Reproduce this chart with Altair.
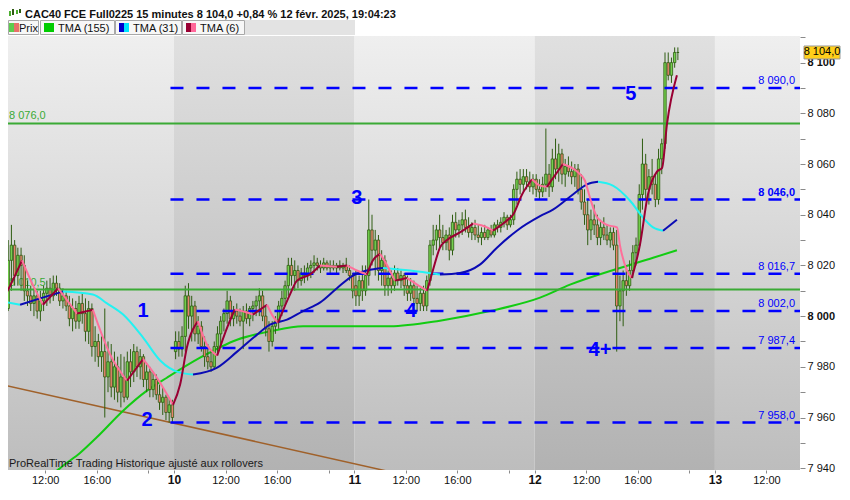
import altair as alt
import pandas as pd

# ---------------- values ----------------
# 15-minute bars, session 08:00-22:00 (56 bars per day).
# Bar index counted from Fri 7 Feb 08:00 ; (open, high, low, close)
feb07_first_bar = 2   # 08:30
feb07 = [
    (8004, 8010, 8001, 8006), (8006, 8011, 8000, 8002), (8003, 8030, 8002, 8022), (8022, 8036, 8010, 8028),
    (8028, 8030, 8012, 8016), (8016, 8027, 8012, 8024), (8024, 8027, 8010, 8020), (8020, 8024, 8006, 8010),
    (8010, 8014, 8004, 8008), (8008, 8012, 8002, 8005), (8005, 8011, 8000, 8008), (8008, 8010, 7999, 8002),
    (8002, 8010, 7998, 8006), (8006, 8012, 8002, 8009), (8009, 8014, 8004, 8011), (8011, 8015, 8005, 8008),
    (8008, 8016, 8006, 8013), (8013, 8016, 8008, 8011), (8011, 8013, 8004, 8006), (8006, 8011, 8003, 8008),
    (8008, 8010, 8002, 8004), (8004, 8008, 7996, 7999), (7999, 8007, 7994, 8003), (8003, 8006, 7995, 7998),
    (7998, 8008, 7995, 8005), (8005, 8009, 7997, 8001), (8001, 8007, 7990, 7994), (7994, 8006, 7989, 8003),
    (8003, 8005, 7984, 7988), (7988, 7996, 7982, 7990), (7990, 7993, 7980, 7984), (7984, 7992, 7978, 7986),
    (7986, 8003, 7960, 7976), (7976, 7990, 7970, 7982), (7982, 7989, 7968, 7972), (7972, 7986, 7967, 7980),
    (7980, 7984, 7966, 7970), (7970, 7985, 7964, 7976), (7976, 7984, 7966, 7968), (7968, 7986, 7967, 7982),
    (7982, 7987, 7972, 7978), (7978, 7989, 7974, 7986), (7986, 7988, 7976, 7980), (7980, 7987, 7975, 7984),
    (7984, 7985, 7972, 7975), (7975, 7981, 7970, 7978), (7978, 7980, 7968, 7971), (7971, 7978, 7968, 7975),
    (7975, 7977, 7967, 7969), (7969, 7973, 7963, 7966), (7966, 7972, 7961, 7968), (7968, 7969, 7959, 7962),
    (7962, 7968, 7958, 7965), (7965, 7967, 7958, 7960),
]
feb10_first_bar = 56
feb10 = [
    (7986, 7994, 7983, 7990), (7990, 7994, 7984, 7987), (7987, 7996, 7984, 7992), (7992, 8012, 7986, 8008),
    (8008, 8013, 7995, 8000), (8000, 8008, 7990, 8004), (8004, 8006, 7990, 7993), (7993, 8000, 7989, 7996),
    (7996, 7998, 7986, 7988), (7988, 7992, 7980, 7984), (7984, 7989, 7979, 7982), (7982, 7986, 7978, 7980),
    (7980, 7990, 7979, 7988), (7988, 7996, 7985, 7993), (7993, 8000, 7988, 7998), (7998, 8003, 7994, 8001),
    (8001, 8010, 7997, 8006), (8006, 8008, 7996, 7999), (7999, 8004, 7996, 8002), (8002, 8005, 7997, 8000),
    (8000, 8003, 7996, 7998), (7998, 8004, 7987, 8002), (8002, 8005, 7997, 7999), (7999, 8004, 7996, 8003),
    (8003, 8006, 7998, 8004), (8004, 8008, 8000, 8006), (8006, 8011, 8000, 8008), (8008, 8010, 7998, 8000),
    (8000, 8004, 7992, 7995), (7995, 7998, 7986, 7990), (7990, 7998, 7988, 7996), (7996, 8000, 7993, 7998),
    (7998, 8006, 7995, 8004), (8004, 8010, 8000, 8007), (8007, 8014, 8004, 8012), (8012, 8023, 8008, 8020),
    (8020, 8023, 8012, 8016), (8016, 8022, 8010, 8018), (8018, 8020, 8011, 8014), (8014, 8019, 8012, 8017),
    (8017, 8020, 8013, 8016), (8016, 8021, 8014, 8019), (8019, 8022, 8015, 8020), (8020, 8024, 8017, 8021),
    (8021, 8023, 8018, 8020), (8020, 8022, 8017, 8019), (8019, 8023, 8018, 8021), (8021, 8022, 8018, 8019),
    (8019, 8022, 8017, 8020), (8020, 8022, 8018, 8019), (8019, 8021, 8017, 8020), (8020, 8022, 8018, 8019),
    (8019, 8021, 8017, 8020), (8020, 8023, 8017, 8018), (8018, 8020, 8014, 8016), (8016, 8017, 8007, 8010),
]
feb11_first_bar = 112
feb11 = [
    (8012, 8018, 8004, 8008), (8008, 8016, 8004, 8014), (8014, 8020, 8006, 8010), (8010, 8020, 8008, 8016),
    (8016, 8046, 8012, 8034), (8034, 8040, 8020, 8026), (8026, 8034, 8016, 8030), (8030, 8032, 8014, 8018),
    (8018, 8026, 8012, 8022), (8022, 8024, 8008, 8012), (8012, 8018, 8008, 8015), (8015, 8018, 8009, 8012),
    (8012, 8020, 8010, 8017), (8017, 8019, 8012, 8014), (8014, 8018, 8011, 8016), (8016, 8017, 8008, 8012),
    (8012, 8016, 8006, 8009), (8009, 8015, 8006, 8012), (8012, 8014, 8004, 8007), (8007, 8012, 8002, 8005),
    (8005, 8011, 8002, 8009), (8009, 8012, 8002, 8004), (8004, 8016, 8002, 8014), (8014, 8030, 8012, 8028),
    (8028, 8036, 8024, 8030), (8030, 8036, 8026, 8034), (8034, 8040, 8027, 8031), (8031, 8036, 8026, 8029),
    (8029, 8034, 8026, 8032), (8032, 8035, 8022, 8026), (8026, 8040, 8024, 8037), (8037, 8041, 8031, 8034),
    (8034, 8038, 8031, 8036), (8036, 8041, 8032, 8038), (8038, 8042, 8033, 8035), (8035, 8039, 8031, 8033),
    (8033, 8037, 8030, 8035), (8035, 8038, 8030, 8032), (8032, 8036, 8029, 8031), (8031, 8035, 8028, 8033),
    (8033, 8036, 8030, 8031), (8031, 8035, 8030, 8034), (8034, 8036, 8031, 8032), (8032, 8037, 8031, 8036),
    (8036, 8038, 8033, 8035), (8035, 8039, 8033, 8037), (8037, 8041, 8035, 8039), (8039, 8040, 8034, 8036),
    (8036, 8040, 8035, 8038), (8038, 8052, 8036, 8050), (8050, 8057, 8044, 8054), (8054, 8058, 8048, 8052),
    (8052, 8058, 8049, 8055), (8055, 8058, 8050, 8053), (8053, 8057, 8049, 8051), (8051, 8056, 8048, 8054),
]
feb12_first_bar = 168
feb12 = [
    (8054, 8056, 8047, 8050), (8050, 8054, 8046, 8049), (8049, 8055, 8047, 8052), (8052, 8074, 8049, 8056),
    (8056, 8060, 8047, 8051), (8051, 8066, 8049, 8062), (8062, 8070, 8054, 8058), (8058, 8068, 8053, 8064),
    (8064, 8066, 8052, 8056), (8056, 8062, 8051, 8059), (8059, 8063, 8055, 8057), (8057, 8061, 8052, 8055),
    (8055, 8060, 8051, 8058), (8058, 8060, 8048, 8050), (8050, 8056, 8042, 8045), (8045, 8050, 8036, 8040),
    (8040, 8046, 8028, 8034), (8034, 8042, 8030, 8038), (8038, 8044, 8032, 8036), (8036, 8040, 8028, 8031),
    (8031, 8038, 8028, 8035), (8035, 8039, 8030, 8032), (8032, 8036, 8028, 8030), (8030, 8035, 8027, 8033),
    (8033, 8035, 8026, 8028), (8028, 8034, 7986, 8004), (8004, 8016, 7998, 8010), (8010, 8018, 7996, 8014),
    (8014, 8020, 8008, 8012), (8012, 8022, 8010, 8018), (8018, 8028, 8015, 8025), (8025, 8031, 8020, 8028),
    (8028, 8052, 8026, 8048), (8048, 8070, 8042, 8060), (8060, 8064, 8046, 8050), (8050, 8058, 8044, 8055),
    (8055, 8062, 8048, 8052), (8052, 8056, 8043, 8046), (8046, 8066, 8044, 8062), (8062, 8070, 8056, 8068),
    (8068, 8104, 8066, 8100), (8100, 8104, 8093, 8095), (8095, 8102, 8092, 8100), (8100, 8106, 8098, 8104),
    (8104, 8106, 8101, 8104),
]

# Moving averages: (bar index, value)
tma6 = [
    (1.5, 8004.5), (4.6, 8012), (8.3, 8022), (11.4, 8013), (14.8, 8004.5), (19.5, 8011), (25.4, 8001),
    (30.3, 8002.5), (35.6, 7985), (40.9, 7974.5), (45.9, 7983), (50.2, 7975.7), (55.2, 7965),
    (57.4, 7973), (59.5, 7987.6), (62.9, 7998), (65.7, 7988.8), (68.9, 7984.4), (72.0, 7995.5),
    (74.4, 8002.6), (78.2, 8001.4), (80.0, 8000.6), (84.4, 8004.5), (86.2, 8000), (87.8, 7997.4),
    (91.5, 8008.5), (93.7, 8014), (97.7, 8016.4), (100.8, 8020), (106.1, 8019.5), (109.2, 8020),
    (112.3, 8018), (115.4, 8016.4), (117.3, 8022), (119.5, 8024.6), (121.6, 8020.3), (124.1, 8014),
    (127.9, 8015), (131.0, 8012.4), (134.1, 8010), (135.9, 8018), (138.1, 8027), (140.3, 8030),
    (144.3, 8033), (148.4, 8036.5), (152.7, 8035), (154.6, 8033.7), (158.9, 8037.7), (160.8, 8040),
    (163.6, 8048), (166.7, 8054), (169.2, 8051.5), (171.3, 8051), (176.3, 8060), (180.7, 8057),
    (183.1, 8053.5), (184.7, 8046.7), (186.9, 8039), (190.0, 8036), (193.1, 8035), (194.0, 8028),
    (196.2, 8018), (197.7, 8015), (200.2, 8028), (202.7, 8048), (205.5, 8057), (207.1, 8058.5),
    (208.6, 8075.6), (211.7, 8095),
]
tma31 = [
    (1.5, 8006), (7.7, 8004.5), (13.9, 8007), (21.0, 8009.7), (30.3, 8008.5), (34.7, 8005),
    (39.7, 8000.6), (45.9, 7991.5), (51.2, 7982.5), (57.4, 7977.7), (61.4, 7977), (68.9, 7979.7),
    (75.1, 7986), (81.3, 7992.7), (85.3, 7996.6), (90.6, 7998.6), (95.6, 8002), (100.8, 8005.3),
    (106.1, 8011), (111.1, 8016), (115.4, 8018), (120.4, 8019), (128.8, 8018), (138.1, 8016.4),
    (144.3, 8017), (150.5, 8020.3), (155.8, 8027), (162.0, 8033.7), (169.2, 8039.4), (173.2, 8042),
    (179.4, 8048), (183.8, 8052), (187.2, 8053), (191.8, 8051.5), (197.1, 8045.6), (201.1, 8039),
    (204.3, 8035), (207.4, 8033.7), (211.7, 8038),
]
tma155 = [
    (15.4, 7933), (16.4, 7935.5), (20.1, 7940), (26.3, 7946), (31.6, 7952.3), (39.7, 7962.7),
    (47.1, 7970.6), (53.3, 7975.7), (63.6, 7983.6), (75.1, 7990.7), (85.3, 7994), (95.6, 7996),
    (107.0, 7996), (122.6, 7996), (138.1, 7998.2), (153.6, 8002), (169.2, 8007.3), (178.5, 8012.4),
    (194.0, 8019), (204.3, 8023), (211.7, 8026),
]

blue_levels = [8090.0, 8046.0, 8016.7, 8002.0, 7987.4, 7958.0]
blue_bold = [8046.0]
blue_start_bar = 54.9
green_levels = [8076.0, 8010.5]
trend_bar = [1.5, 134.0]
trend_val = [7973.3, 7935.5]
wave_labels = ["1", "2", "3", "4", "4+", "5"]
wave_bar = [45.9, 47.1, 112.3, 129.1, 187.8, 197.4]
wave_val = [8002.2, 7959.2, 8046.7, 8002.2, 7986.8, 8087.8]
tick_bars = [16, 32, 48, 56, 72, 88, 104, 112, 128, 144, 160, 168, 184, 200, 216, 224, 240]
day_bands = [(0, 56, "light"), (56, 112, "dark"), (112, 168, "light"), (168, 224, "dark"), (224, 280, "light")]
series_names = ["Prix", "TMA (155)", "TMA (31)", "TMA (6)"]
title = "CAC40 FCE Full0225 15 minutes 8 104,0 +0,84 % 12 févr. 2025, 19:04:23"
footer = "ProRealTime Trading  Historique ajusté aux rollovers"

# ---------------- styling / layout ----------------
FONT = "Liberation Sans"
W, H = 792, 434            # plot area
PAD_TOP, PAD_RIGHT, PAD_BOTTOM = 28, 42, 16
OUTLINE = "#2f5d12"
UP_FILL, DOWN_FILL = "#74d14e", "#e8826e"
BLUE = "#0000ff"
GREEN_LVL = "#3aaa35"


def fr(v):
    return f"{v:,.1f}".replace(",", " ").replace(".", ",")


rows = []
for first, bars in [(feb07_first_bar, feb07), (feb10_first_bar, feb10),
                    (feb11_first_bar, feb11), (feb12_first_bar, feb12)]:
    for i, (o, h, l, c) in enumerate(bars):
        rows.append({"u": first + i + 0.5, "o": o, "h": h, "l": l, "c": c,
                     "fill": UP_FILL if c >= o else DOWN_FILL})
bars_df = pd.DataFrame(rows)


def ma_frame(points, rise, fall):
    out, run, prev = [], 0, None
    for (b0, v0), (b1, v1) in zip(points, points[1:]):
        col = rise if v1 >= v0 else fall
        if col != prev:
            run += 1
            out.append({"u": b0 + 0.5, "v": v0, "run": run, "col": col})
        out.append({"u": b1 + 0.5, "v": v1, "run": run, "col": col})
        prev = col
    return pd.DataFrame(out)


X_MAX = 250.43
xs = alt.Scale(domain=[4.44, X_MAX], nice=False, zero=False, padding=0)
ys = alt.Scale(domain=[7939.3, 8110.5], nice=False, zero=False, padding=0)
xaxis = alt.Axis(
    values=tick_bars, title=None, grid=False, domain=False, labelOverlap=False,
    labelExpr="datum.value % 56 == 0 ? toString(datum.value / 56 + 9) : "
              "(datum.value % 56 == 16 ? '12:00' : (datum.value % 56 == 32 ? '16:00' : ''))",
    labelFontWeight={"expr": "datum.value % 56 == 0 ? 'bold' : 'normal'"},
    labelFontSize={"expr": "datum.value % 56 == 0 ? 12 : 11"},
    tickSize=3, tickColor="#8a8a8a", labelColor="#111111", labelPadding=1, labelFont=FONT)
yaxis = alt.Axis(
    orient="right", values=list(range(7940, 8111, 10)), title=None, grid=False, domain=False,
    labelOverlap=False,
    labelExpr="datum.value % 20 == 0 ? replace(format(datum.value, ',d'), ',', ' ') : ''",
    labelFontWeight={"expr": "datum.value % 100 == 0 ? 'bold' : 'normal'"},
    tickSize=5, tickColor="#8a8a8a", labelColor="#111111", labelFontSize=11, labelPadding=2,
    labelFont=FONT)


def X(f):
    return alt.X(f, type="quantitative", scale=xs, axis=xaxis)


def Y(f):
    return alt.Y(f, type="quantitative", scale=ys, axis=yaxis)


one = pd.DataFrame({"k": [0]})
layers = []

# background day bands with vertical gradient
bands = pd.DataFrame(day_bands, columns=["x0", "x1", "shade"])
for shade, top, bottom in [("light", "#efefef", "#bdbdbd"), ("dark", "#e0e0e0", "#b2b2b2")]:
    grad = alt.LinearGradient(gradient="linear", x1=0, x2=0, y1=0, y2=1,
                              stops=[alt.GradientStop(offset=0, color=top),
                                     alt.GradientStop(offset=1, color=bottom)])
    layers.append(alt.Chart(bands).transform_filter(f"datum.shade == '{shade}'")
                  .mark_rect(color=grad, clip=True)
                  .encode(x=X("x0"), x2="x1", y=alt.value(0), y2=alt.value(H)))

# brown trendline
layers.append(alt.Chart(pd.DataFrame({"u": trend_bar, "v": trend_val}))
              .mark_line(color="#a0612a", strokeWidth=1.5, clip=True)
              .encode(x=X("u"), y=Y("v")))

# green level labels (under the candles)
gl = pd.DataFrame({"v": green_levels, "t": [fr(v) for v in green_levels]})
layers.append(alt.Chart(gl).mark_text(align="left", baseline="alphabetic", dy=-4, fontSize=11,
                                      color=GREEN_LVL, font=FONT)
              .encode(x=alt.value(1), y=Y("v"), text="t:N"))

# TMA 155
layers.append(alt.Chart(pd.DataFrame(tma155, columns=["u", "v"]).assign(u=lambda d: d.u + 0.5))
              .mark_line(color="#12cc12", strokeWidth=2, clip=True, interpolate="monotone")
              .encode(x=X("u"), y=Y("v")))

# candles
layers.append(alt.Chart(bars_df).mark_rule(color=OUTLINE, strokeWidth=1, clip=True)
              .encode(x=X("u"), y=Y("l"), y2="h"))
layers.append(alt.Chart(bars_df).mark_bar(width=2.4, stroke=OUTLINE, strokeWidth=0.8, clip=True)
              .encode(x=X("u"), y=Y("o"), y2="c", fill=alt.Fill("fill:N", scale=None)))

# green level lines
layers.append(alt.Chart(gl).mark_rule(color=GREEN_LVL, strokeWidth=2).encode(y=Y("v")))

# blue dashed levels
bl = pd.DataFrame({"v": blue_levels, "t": [fr(v) for v in blue_levels],
                   "bold": [v in blue_bold for v in blue_levels]})
bl["x0"] = blue_start_bar
bl["x1"] = X_MAX
layers.append(alt.Chart(bl).mark_rule(color=BLUE, strokeWidth=2.5, strokeDash=[13, 13], clip=True)
              .encode(x=X("x0"), x2="x1", y=Y("v")))
for flag, weight in [(False, "normal"), (True, "bold")]:
    layers.append(alt.Chart(bl).transform_filter(f"datum.bold == {str(flag).lower()}")
                  .mark_text(align="right", baseline="alphabetic", dy=-4, fontSize=11,
                             color=BLUE, font=FONT, fontWeight=weight)
                  .encode(x=alt.value(W - 5), y=Y("v"), text="t:N"))

# TMA 31 and TMA 6
for pts, rise, fall in [(tma31, "#0b0bb4", "#22f2f2"), (tma6, "#990033", "#ff6f9a")]:
    layers.append(alt.Chart(ma_frame(pts, rise, fall))
                  .mark_line(strokeWidth=2, interpolate="monotone", clip=True)
                  .encode(x=X("u"), y=Y("v"), detail="run:N",
                          color=alt.Color("col:N", scale=None)))

# wave labels
wl = pd.DataFrame({"t": wave_labels, "u": [b + 0.5 for b in wave_bar], "v": wave_val})
layers.append(alt.Chart(wl).mark_text(fontSize=20, fontWeight="bold", color=BLUE, font=FONT,
                                      align="center", baseline="middle")
              .encode(x=X("u"), y=Y("v"), text="t:N"))

# last price tag
last = pd.DataFrame({"v": [feb12[-1][3]], "t": [fr(feb12[-1][3])]})
layers.append(alt.Chart(last).mark_point(shape="M-1,-0.36H1V0.36H-1Z", size=1296, filled=True,
                                         fill="#ffcf1a", stroke="#9a9a9a", strokeWidth=1, opacity=1)
              .encode(x=alt.value(W + 22), y=Y("v")))
layers.append(alt.Chart(last).mark_text(fontSize=11, color="#000000", font=FONT, baseline="middle")
              .encode(x=alt.value(W + 22), y=Y("v"), text="t:N"))

# footer text
layers.append(alt.Chart(one).mark_text(text=footer, align="left", baseline="alphabetic", fontSize=11,
                                       color="#1a1a1a", font=FONT)
              .encode(x=alt.value(1), y=alt.value(H - 3)))


# ---------------- header (title + legend row) ----------------
def box(x0, x1, y0, y1, fill, stroke=None):
    kw = {"fill": fill}
    if stroke:
        kw.update(stroke=stroke, strokeWidth=1)
    return (alt.Chart(one).mark_rect(**kw)
            .encode(x=alt.value(x0), x2=alt.value(x1), y=alt.value(y0), y2=alt.value(y1)))


def label(txt, x, y, size=11, weight="normal"):
    return (alt.Chart(one).mark_text(text=txt, align="left", baseline="alphabetic", fontSize=size,
                                     fontWeight=weight, color="#111111", font=FONT)
            .encode(x=alt.value(x), y=alt.value(y)))


layers.append(box(0, W + PAD_RIGHT, -PAD_TOP, 0, "#ffffff"))
layers.append(label(title, 17, -18, size=11, weight="bold"))
for xx, y0, y1, col in [(2, -25, -20, "#4caf30"), (5, -27, -21, "#2f5d12"),
                        (9, -26, -22, "#4caf30"), (12, -27, -23, "#2f5d12")]:
    layers.append(alt.Chart(one).mark_rule(color=col, strokeWidth=2)
                  .encode(x=alt.value(xx), y=alt.value(y0), y2=alt.value(y1)))
layers.append(box(237, 347, -16, -1, "#e3e3e3"))
legend_boxes = [(0, 31), (32, 107), (107, 174), (174, 237)]
legend_icons = [("#5dcc4e", "#e7706a"), ("#00cc00", "#00cc00"), ("#0000cc", "#00e5ff"),
                ("#990033", "#ff6699")]
for idx, ((x0, x1), (c1, c2), name) in enumerate(zip(legend_boxes, legend_icons, series_names)):
    layers.append(box(x0 + 0.5, x1 - 0.5, -15.5, -1.5, "#f7f7f7", "#a8a8a8"))
    icon_x = x0 + 1 if idx == 0 else x0 + 4
    layers.append(box(icon_x, icon_x + 5, -13, -4, c1))
    layers.append(box(icon_x + 5, icon_x + 10, -13, -4, c2))
    layers.append(label(name, icon_x + (10 if idx == 0 else 14), -4.5))

chart = (alt.layer(*layers)
         .properties(width=W, height=H, autosize=alt.AutoSizeParams(type="none"),
                     padding={"left": 0, "top": PAD_TOP, "right": PAD_RIGHT, "bottom": PAD_BOTTOM},
                     background="#ffffff")
         .configure(font=FONT)
         .configure_view(stroke=None))

chart.save("out.html", embed_options={"renderer": "svg", "actions": False})
